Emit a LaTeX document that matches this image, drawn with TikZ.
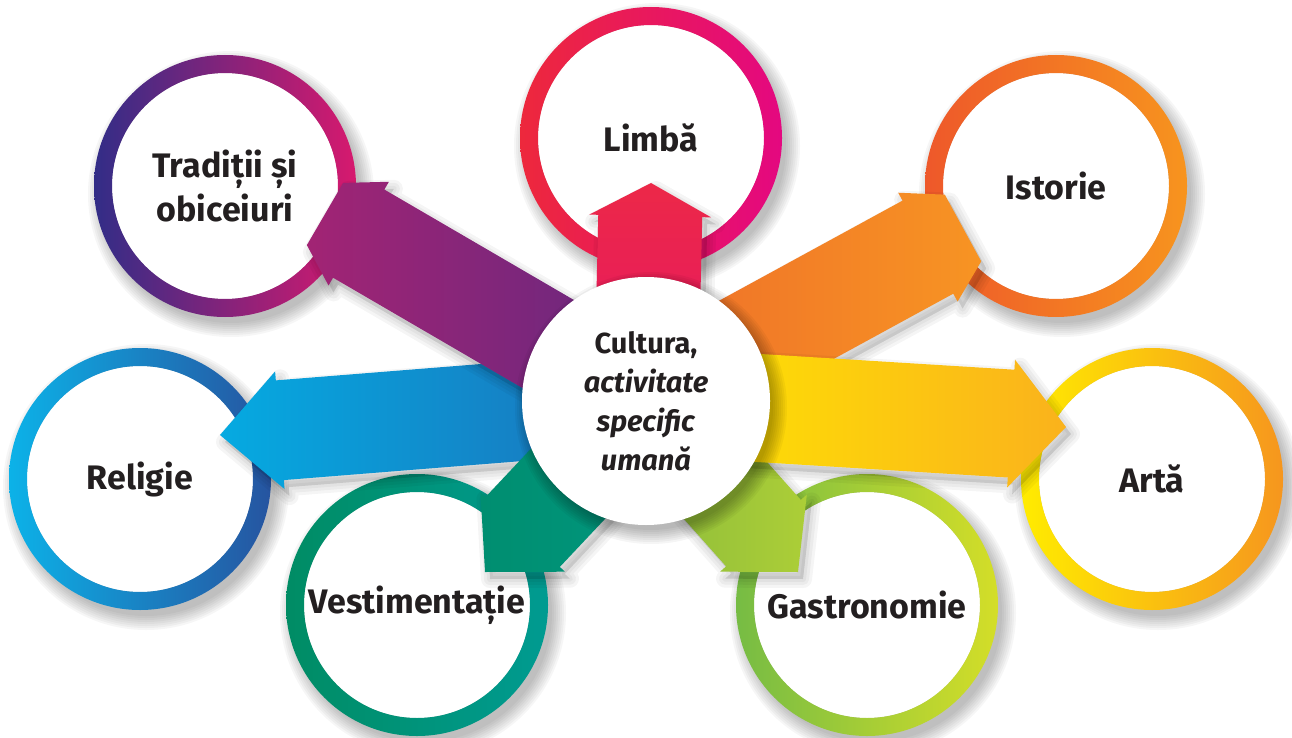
\documentclass[tikz,border=0pt]{standalone}
\usepackage{fontspec}
\setmainfont{Fira Sans}
\usetikzlibrary{positioning,calc,backgrounds}

\definecolor{ink}{RGB}{35,31,32}
% ring colours
\definecolor{limbaL}{RGB}{237,40,60}
\definecolor{limbaR}{RGB}{228,8,128}
\definecolor{tradL}{RGB}{50,45,135}
\definecolor{tradR}{RGB}{215,25,110}
\definecolor{istL}{RGB}{238,88,42}
\definecolor{istR}{RGB}{247,148,30}
\definecolor{relL}{RGB}{12,178,232}
\definecolor{relR}{RGB}{38,84,160}
\definecolor{artL}{RGB}{255,236,0}
\definecolor{artR}{RGB}{246,150,30}
\definecolor{vestL}{RGB}{0,140,100}
\definecolor{vestR}{RGB}{0,155,145}
\definecolor{gasL}{RGB}{118,188,68}
\definecolor{gasR}{RGB}{212,222,40}
% arrow colours
\definecolor{limbaA}{RGB}{236,40,72}
\definecolor{limbaB}{RGB}{230,22,100}
\definecolor{tradA}{RGB}{162,36,116}
\definecolor{tradB}{RGB}{98,40,128}
\definecolor{istA}{RGB}{238,108,42}
\definecolor{istB}{RGB}{247,148,35}
\definecolor{relA}{RGB}{5,170,225}
\definecolor{relB}{RGB}{28,112,185}
\definecolor{artA}{RGB}{255,232,0}
\definecolor{artB}{RGB}{250,178,28}
\definecolor{vestA}{RGB}{0,142,112}
\definecolor{vestB}{RGB}{0,152,128}
\definecolor{gasA}{RGB}{135,185,60}
\definecolor{gasB}{RGB}{172,206,55}

\tikzset{topic/.style={circle, minimum size=226pt, inner sep=0pt, align=center,
    text=ink, font={\fontsize{34}{44}\selectfont\bfseries}},
  hub/.style={circle, minimum size=248pt, inner sep=0pt, align=center,
    fill=white, text=ink, font={\fontsize{29}{39}\selectfont\bfseries}}
}

% shadow, white disc and shaded ring behind a topic node
\newcommand{\topicring}[3]{%
  \foreach \k in {1,...,8}
    \fill[black, opacity=0.035] ([xshift=6pt,yshift=-8pt]#1.center) circle ({(145-2*\k)*1pt});
  \fill[white] (#1.center) circle (113pt);
  \shade[left color=#2, right color=#3, even odd rule]
    (#1.center) circle (131pt) circle (113pt);
}

% block arrow: from, tip, shaft half width, head half width, head length, front half width, shading
\newcommand{\spoke}[7]{%
  \coordinate (hb) at ($(#2)!#5pt!(#1)$);
  \coordinate (p1) at ($(#1)!#3pt!90:(#2)$);
  \coordinate (p2) at ($(hb)!#3pt!90:(#2)$);
  \coordinate (p3) at ($(hb)!#4pt!90:(#2)$);
  \coordinate (p4) at ($(#2)!#6pt!-90:(hb)$);
  \coordinate (p5) at ($(#2)!#6pt!90:(hb)$);
  \coordinate (p6) at ($(hb)!#4pt!-90:(#2)$);
  \coordinate (p7) at ($(hb)!#3pt!-90:(#2)$);
  \coordinate (p8) at ($(#1)!#3pt!-90:(#2)$);
  \begin{scope}[transform canvas={xshift=5pt,yshift=-7pt}]
    \foreach \w in {18,12,6}
      \filldraw[black, opacity=0.04, line width=\w pt, line join=round]
        (p1) -- (p2) -- (p3) -- (p4) -- (p5) -- (p6) -- (p7) -- (p8) -- cycle;
  \end{scope}
  \shade[#7] (p1) -- (p2) -- (p3) -- (p4) -- (p5) -- (p6) -- (p7) -- (p8) -- cycle;
}

\begin{document}
\begin{tikzpicture}[x=1pt, y=-1pt, on grid]
  \useasboundingbox (0,0) rectangle (1292,738);

  \coordinate (o) at (646,401);

  \node[topic, above right=263pt and 5pt of o, anchor=center]   (limba)    {Limbă};
  \node[topic, above left=215pt and 421pt of o, anchor=center]  (traditii) {Tradiții și\\obiceiuri};
  \node[topic, above right=215pt and 410pt of o, anchor=center] (istorie)  {Istorie};
  \node[topic, below left=78pt and 506pt of o, anchor=center]   (religie)  {Religie};
  \node[topic, below right=78pt and 506pt of o, anchor=center]  (arta)     {Artă};
  \node[topic, below left=204pt and 229pt of o, anchor=center]  (vest)     {Vestimentație};
  \node[topic, below right=204pt and 221pt of o, anchor=center] (gastro)   {Gastronomie};

  \begin{scope}[on background layer]
    \topicring{limba}{limbaL}{limbaR}
    \topicring{traditii}{tradL}{tradR}
    \topicring{istorie}{istL}{istR}
    \topicring{religie}{relL}{relR}
    \topicring{arta}{artL}{artR}
    \topicring{vest}{vestL}{vestR}
    \topicring{gastro}{gasL}{gasR}
  \end{scope}

  % arrow tips
  \coordinate (tLimba) at (651,183);
  \coordinate (tTrad)  at (325,214);
  \coordinate (tIst)   at (963,228);
  \coordinate (tRel)   at (220,435);
  \coordinate (tArt)   at (1066,427);
  \coordinate (tVest)  at (485,572);
  \coordinate (tGas)   at (798,572);

  \spoke{o}{tLimba}{52}{61}{33}{0}{top color=limbaA, bottom color=limbaB}
  \spoke{o}{tIst}{53}{62}{40}{38}{left color=istA, right color=istB}
  \spoke{o}{tRel}{50}{59}{60}{0}{left color=relA, right color=relB}
  \spoke{o}{tVest}{51}{58}{55}{0}{left color=vestA, right color=vestB}
  \spoke{o}{tGas}{50}{58}{52}{0}{left color=gasA, right color=gasB}
  \spoke{o}{tArt}{54}{64}{55}{0}{left color=artA, right color=artB}
  \spoke{o}{tTrad}{51}{60}{39}{36}{left color=tradA, right color=tradB}

  \foreach \k in {1,...,8}
    \fill[black, opacity=0.04] ([xshift=5pt,yshift=-7pt]o) circle ({(138-2*\k)*1pt});
  \node[hub] (ctr) at (o) {Cultura,\\\textit{activitate}\\\textit{specific}\\\textit{umană}};
\end{tikzpicture}
\end{document}
